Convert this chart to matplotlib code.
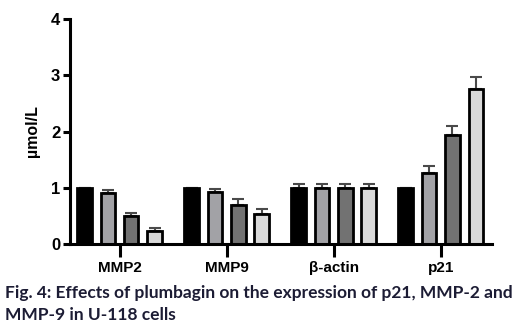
import numpy as np
import matplotlib
matplotlib.use("Agg")
import matplotlib.pyplot as plt

# data
genes = ["MMP2", "MMP9", "β-actin", "p21"]
dose0 = [1.00, 1.00, 1.00, 1.00]
dose1 = [0.90, 0.92, 1.00, 1.27]
dose2 = [0.50, 0.69, 1.00, 1.94]
dose3 = [0.23, 0.54, 1.00, 2.76]
err0 = [0.0, 0.0, 0.06, 0.0]
err1 = [0.06, 0.06, 0.06, 0.12]
err2 = [0.05, 0.11, 0.06, 0.16]
err3 = [0.06, 0.09, 0.06, 0.21]

series = [dose0, dose1, dose2, dose3]
errors = [err0, err1, err2, err3]
colors = ["#000000", "#a2a2a6", "#727272", "#d9d9d9"]

fig = plt.figure(figsize=(5.17, 3.30), dpi=100)
ax = fig.add_axes([70/517, 86/330, (492-70)/517, 225/330])

x = np.arange(len(genes))
pitch = 0.218
width = 0.135
for k, (vals, errs, c) in enumerate(zip(series, errors, colors)):
    pos = x + (k - 1.5) * pitch
    ax.bar(pos, vals, width, color=c, edgecolor="black", linewidth=2, zorder=2)
    ax.errorbar(pos, vals, yerr=[np.zeros(len(errs)), errs], fmt="none",
                ecolor="#4a4a4a", elinewidth=1.5, capsize=4, capthick=1.5, zorder=1)

ax.set_xlim(-0.463, 3.479)
ax.set_ylim(0, 4)
ax.set_yticks([0, 1, 2, 3, 4])
ax.set_xticks(x)
ax.set_xticklabels(genes)
for s in ["top", "right"]:
    ax.spines[s].set_visible(False)
for s in ["left", "bottom"]:
    ax.spines[s].set_linewidth(2.2)
ax.tick_params(axis="y", width=2.2, length=5, labelsize=12, pad=2)
ax.tick_params(axis="x", width=2.2, length=9, labelsize=11, pad=3)
for lab in ax.get_xticklabels() + ax.get_yticklabels():
    lab.set_fontweight("bold")
    lab.set_family("Liberation Sans")
ax.set_ylabel("µmol/L", fontsize=11.5, fontweight="bold", family="Liberation Sans", labelpad=8)

fig.text(0.01, 1 - 293/330, "Fig. 4: Effects of plumbagin on the expression of p21, MMP-2 and",
         fontsize=12.5, fontweight="bold", family="Lato", color="#1c1c34", va="center")
fig.text(0.01, 1 - 315/330, "MMP-9 in U-118 cells",
         fontsize=12.5, fontweight="bold", family="Lato", color="#1c1c34", va="center")

fig.savefig("out.png", dpi=100)
